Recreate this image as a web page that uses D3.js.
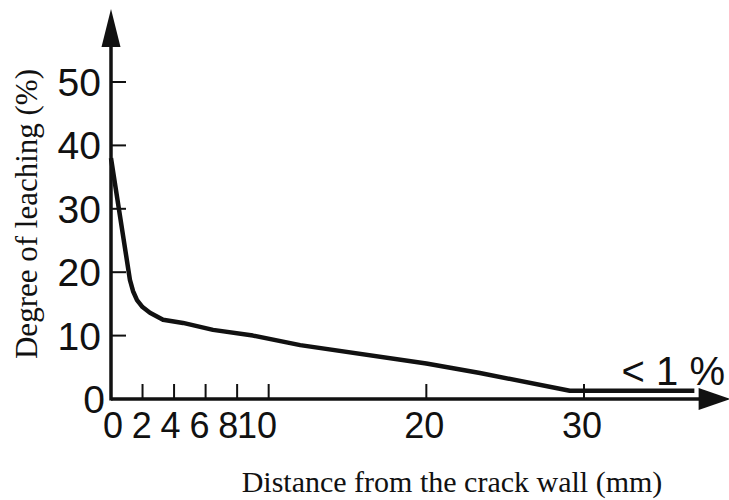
<html>
<head>
<style>
  body { margin: 0; background: #fff; }
  svg { display: block; }
  .tick-num { font-family: "Liberation Sans", Arial, sans-serif; fill: #111; }
  .title { font-family: "Liberation Serif", "Times New Roman", serif; fill: #111; }
</style>
<script src="https://cdn.jsdelivr.net/npm/d3@7"></script>
</head>
<body>
<div class="chart"></div>
<script type="text/javascript">

  // distance from crack wall (mm) and degree of leaching (%)
  var distance = [0, 1.2, 1.4, 1.65, 2.0, 2.47, 3.3, 4.57, 6.47, 9, 12, 20, 23.4, 29.1, 37];
  var leaching = [38, 18.8, 17.0, 15.6, 14.5, 13.6, 12.5, 12.0, 10.9, 10, 8.5, 5.6, 4.1, 1.3, 1.3];

  var xTicks = [2, 4, 6, 8, 10, 20, 30];
  var xLabels = [0, 2, 4, 6, 8, 10, 20, 30];
  var yTicks = [10, 20, 30, 40, 50];
  var yLabels = [0, 10, 20, 30, 40, 50];

  var width = 729, height = 500;

  var x = d3.scaleLinear().domain([0, 30]).range([111, 584]);
  var y = d3.scaleLinear().domain([0, 50]).range([399, 82]);
  // the small labels 0..10 are set tighter than their ticks in the original
  var xSmall = d3.scaleLinear().domain([0, 10]).range([113, 257]);

  var svg = d3.select(".chart").append("svg")
      .attr("width", width)
      .attr("height", height);

  svg.append("rect").attr("width", width).attr("height", height).attr("fill", "#fff");

  //// axes lines
  var xEnd = x(39.3), yEnd = y(61.5);
  svg.append("line")
      .attr("x1", x(0)).attr("y1", y(0)).attr("x2", xEnd - 20).attr("y2", y(0))
      .attr("stroke", "#111").attr("stroke-width", 3.5);
  svg.append("line")
      .attr("x1", x(0)).attr("y1", y(0) + 1.5).attr("x2", x(0)).attr("y2", yEnd + 20)
      .attr("stroke", "#111").attr("stroke-width", 3.5);

  //// arrow heads
  svg.append("path")
      .attr("d", "M" + xEnd + "," + y(0) + "L" + (xEnd - 32) + "," + (y(0) - 11) +
                 "L" + (xEnd - 32) + "," + (y(0) + 11) + "Z")
      .attr("fill", "#111");
  svg.append("path")
      .attr("d", "M" + x(0) + "," + yEnd + "L" + (x(0) - 9.5) + "," + (yEnd + 38) +
                 "L" + (x(0) + 9.5) + "," + (yEnd + 38) + "Z")
      .attr("fill", "#111");

  //// tick marks
  svg.selectAll("line.xtick")
      .data(xTicks)
      .enter().append("line")
      .attr("class", "xtick")
      .attr("x1", function (d) { return x(d); })
      .attr("x2", function (d) { return x(d); })
      .attr("y1", y(0))
      .attr("y2", y(0) - 15)
      .attr("stroke", "#111").attr("stroke-width", 2);

  svg.selectAll("line.ytick")
      .data(yTicks)
      .enter().append("line")
      .attr("class", "ytick")
      .attr("x1", x(0))
      .attr("x2", x(0) + 15)
      .attr("y1", function (d) { return y(d); })
      .attr("y2", function (d) { return y(d); })
      .attr("stroke", "#111").attr("stroke-width", 2);

  //// tick labels
  svg.selectAll("text.xlab")
      .data(xLabels)
      .enter().append("text")
      .attr("class", "tick-num xlab")
      .attr("x", function (d) { return d <= 10 ? xSmall(d) : x(d) - 2; })
      .attr("y", 438)
      .attr("text-anchor", "middle")
      .attr("font-size", "36px")
      .text(function (d) { return d; });

  svg.selectAll("text.ylab")
      .data(yLabels)
      .enter().append("text")
      .attr("class", "tick-num ylab")
      .attr("x", function (d) { return d == 0 ? 105 : 101; })
      .attr("y", function (d) { return y(d) + 14; })
      .attr("text-anchor", "end")
      .attr("font-size", "39px")
      .text(function (d) { return d; });

  //// the leaching curve
  var pts = distance.map(function (d, i) { return [d, leaching[i]]; });
  var line = d3.line()
      .x(function (d) { return x(d[0]); })
      .y(function (d) { return y(d[1]); });

  svg.append("path")
      .datum(pts)
      .attr("d", line)
      .attr("fill", "none")
      .attr("stroke", "#111")
      .attr("stroke-width", 4.5)
      .attr("stroke-linejoin", "round");

  //// annotation
  svg.append("text")
      .attr("class", "tick-num")
      .attr("x", 725)
      .attr("y", y(2.2))
      .attr("text-anchor", "end")
      .attr("font-size", "40px")
      .text("< 1 %");

  //// axis titles
  svg.append("text")
      .attr("class", "title")
      .attr("transform", "translate(37," + 214 + ") rotate(-90)")
      .attr("text-anchor", "middle")
      .attr("font-size", "31px")
      .text("Degree of leaching (%)");

  svg.append("text")
      .attr("class", "title")
      .attr("x", 452)
      .attr("y", 492)
      .attr("text-anchor", "middle")
      .attr("font-size", "30px")
      .text("Distance from the crack wall (mm)");

</script>
</body>
</html>
